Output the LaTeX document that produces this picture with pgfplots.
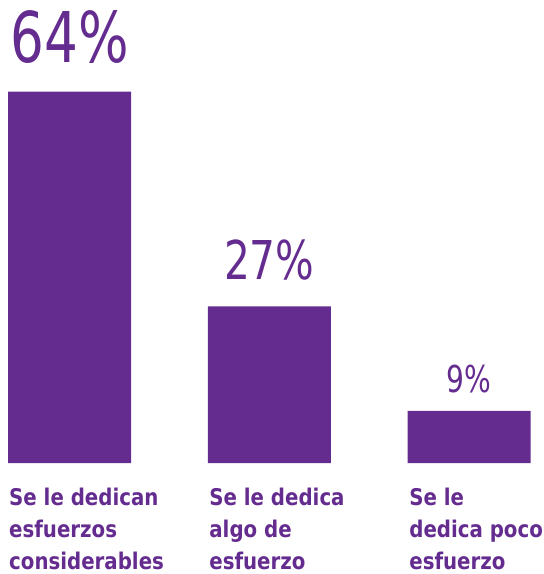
\documentclass[border=0pt]{standalone}
\usepackage{pgfplots}
\pgfplotsset{compat=1.18}
\usepackage{fontspec}
\setmainfont{DejaVu Sans}
\newfontfamily\numfont[FakeStretch=0.76]{DejaVu Sans}
\newfontfamily\labfont[FakeStretch=0.86]{DejaVu Sans}
\definecolor{purp}{HTML}{652C90}
\tikzset{lab/.style={anchor=base west, inner sep=0, text=purp, font=\labfont\bfseries\fontsize{23bp}{28bp}\selectfont}}
\begin{document}
\begin{tikzpicture}
\useasboundingbox (0,-111bp) rectangle (544bp,463bp);
\begin{axis}[
  at={(0,0)}, anchor=south west,
  scale only axis, width=544bp, height=463bp,
  xmin=-0.348, xmax=2.375, ymin=0, ymax=79.8,
  hide axis, clip=false,
  ybar, bar width=123bp,
]
\addplot[fill=purp, draw=none] coordinates {(0,64) (1,27) (2,9)};
\node[anchor=base, inner sep=0, text=purp, font=\numfont\fontsize{70bp}{80bp}\selectfont] at ([yshift=29bp]axis cs:0,64) {64\%};
\node[anchor=base, inner sep=0, text=purp, font=\numfont\fontsize{53.5bp}{60bp}\selectfont] at ([yshift=27bp]axis cs:1,27) {27\%};
\node[anchor=base, inner sep=0, text=purp, font=\numfont\fontsize{37bp}{44bp}\selectfont] at ([yshift=18bp]axis cs:2,9) {9\%};
\node[lab] at ([yshift=-42bp]axis cs:-0.303,0) {Se le dedican};
\node[lab] at ([yshift=-74bp]axis cs:-0.303,0) {esfuerzos};
\node[lab] at ([yshift=-106bp]axis cs:-0.303,0) {considerables};
\node[lab] at ([yshift=-42bp]axis cs:0.699,0) {Se le dedica};
\node[lab] at ([yshift=-74bp]axis cs:0.699,0) {algo de};
\node[lab] at ([yshift=-106bp]axis cs:0.699,0) {esfuerzo};
\node[lab] at ([yshift=-42bp]axis cs:1.700,0) {Se le};
\node[lab] at ([yshift=-74bp]axis cs:1.700,0) {dedica poco};
\node[lab] at ([yshift=-106bp]axis cs:1.700,0) {esfuerzo};
\end{axis}
\end{tikzpicture}
\end{document}
